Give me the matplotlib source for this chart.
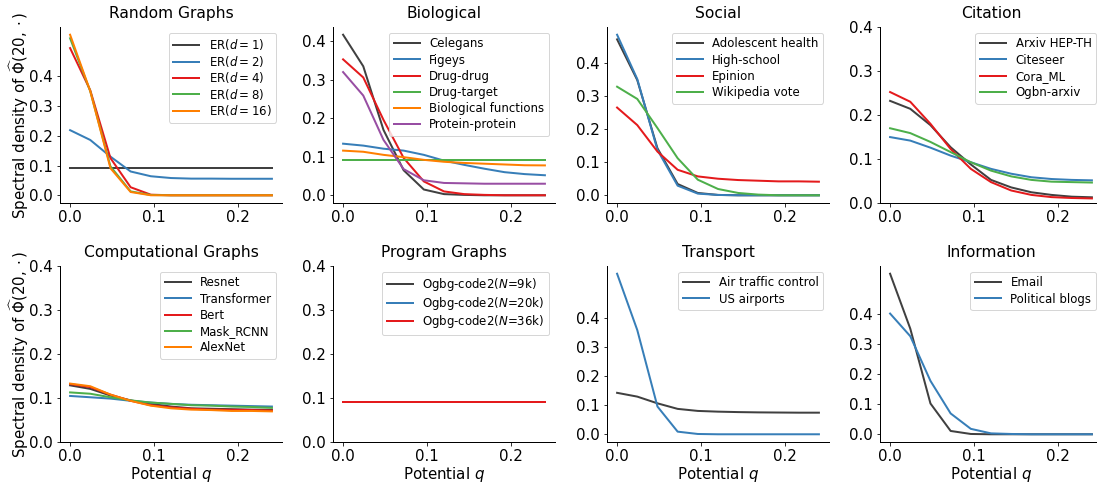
import numpy as np
import matplotlib
matplotlib.use("Agg")
import matplotlib.pyplot as plt

plt.rcParams['font.family'] = ['DejaVu Sans']

# Potential grid
q = np.linspace(0, 0.24, 11)

# Random graphs
er_d1 = [0.091] * 11
er_d2 = [0.219, 0.186, 0.130, 0.080, 0.064, 0.058, 0.056, 0.056, 0.0555, 0.0555, 0.0555]
er_d4 = [0.495, 0.353, 0.125, 0.027, 0.002, 0, 0, 0, 0, 0, 0]
er_d8 = [0.528, 0.350, 0.097, 0.013, 0.001, 0, 0, 0, 0, 0, 0]
er_d16 = [0.540, 0.350, 0.091, 0.011, 0.0, 0, 0, 0, 0, 0, 0]

# Biological
celegans = [0.417, 0.335, 0.170, 0.065, 0.015, 0.003, 0.001, 0, 0, 0, 0]
figeys = [0.134, 0.129, 0.121, 0.116, 0.105, 0.090, 0.079, 0.069, 0.060, 0.055, 0.052]
drug_drug = [0.353, 0.306, 0.196, 0.097, 0.036, 0.010, 0.003, 0.001, 0, 0, 0]
drug_target = [0.091] * 11
bio_functions = [0.116, 0.113, 0.105, 0.099, 0.092, 0.087, 0.084, 0.082, 0.080, 0.078, 0.0776]
protein = [0.320, 0.259, 0.144, 0.068, 0.039, 0.032, 0.031, 0.030, 0.030, 0.030, 0.030]

# Social
adolescent = [0.471, 0.348, 0.142, 0.034, 0.007, 0.001, 0, 0, 0, 0, 0]
high_school = [0.485, 0.351, 0.137, 0.029, 0.005, 0.001, 0, 0, 0, 0, 0]
epinion = [0.265, 0.212, 0.132, 0.077, 0.057, 0.050, 0.046, 0.044, 0.042, 0.042, 0.041]
wiki_vote = [0.328, 0.291, 0.203, 0.112, 0.047, 0.019, 0.007, 0.002, 0, 0, 0]

# Citation
arxiv_hepth = [0.232, 0.214, 0.177, 0.127, 0.088, 0.053, 0.036, 0.025, 0.019, 0.015, 0.0136]
citeseer = [0.150, 0.142, 0.126, 0.108, 0.093, 0.078, 0.067, 0.059, 0.055, 0.053, 0.052]
cora_ml = [0.252, 0.230, 0.180, 0.123, 0.078, 0.048, 0.029, 0.019, 0.014, 0.012, 0.011]
ogbn_arxiv = [0.170, 0.159, 0.139, 0.116, 0.093, 0.074, 0.061, 0.053, 0.049, 0.048, 0.047]

# Computational graphs
resnet = [0.129, 0.121, 0.106, 0.095, 0.087, 0.081, 0.077, 0.076, 0.075, 0.074, 0.0736]
transformer = [0.105, 0.102, 0.099, 0.094, 0.090, 0.087, 0.085, 0.084, 0.083, 0.082, 0.081]
bert = [0.132, 0.125, 0.108, 0.094, 0.084, 0.079, 0.076, 0.074, 0.0736, 0.073, 0.072]
mask_rcnn = [0.113, 0.110, 0.102, 0.095, 0.090, 0.087, 0.084, 0.083, 0.081, 0.080, 0.078]
alexnet = [0.133, 0.127, 0.108, 0.094, 0.083, 0.077, 0.074, 0.073, 0.071, 0.071, 0.070]

# Program graphs
code2_9k = [0.091] * 11
code2_20k = [0.091] * 11
code2_36k = [0.091] * 11

# Transport
air_traffic = [0.142, 0.129, 0.106, 0.087, 0.080, 0.0775, 0.076, 0.075, 0.0745, 0.074, 0.074]
us_airports = [0.550, 0.357, 0.095, 0.009, 0.001, 0, 0, 0, 0, 0, 0]

# Information
email = [0.532, 0.350, 0.102, 0.011, 0.001, 0, 0, 0, 0, 0, 0]
pol_blogs = [0.400, 0.325, 0.177, 0.069, 0.018, 0.003, 0.001, 0, 0, 0, 0]

colors = ['#404040', '#377eb8', '#e41a1c', '#4daf4a', '#ff7f00', '#984ea3']

# (title, series, fixed y-range, legend has math labels)
panels = [
    ("Random Graphs", [(er_d1, r"ER($d=1$)"), (er_d2, r"ER($d=2$)"), (er_d4, r"ER($d=4$)"),
                       (er_d8, r"ER($d=8$)"), (er_d16, r"ER($d=16$)")], False, True),
    ("Biological", [(celegans, "Celegans"), (figeys, "Figeys"), (drug_drug, "Drug-drug"),
                    (drug_target, "Drug-target"), (bio_functions, "Biological functions"),
                    (protein, "Protein-protein")], False, False),
    ("Social", [(adolescent, "Adolescent health"), (high_school, "High-school"),
                (epinion, "Epinion"), (wiki_vote, "Wikipedia vote")], False, False),
    ("Citation", [(arxiv_hepth, "Arxiv HEP-TH"), (citeseer, "Citeseer"),
                  (cora_ml, "Cora_ML"), (ogbn_arxiv, "Ogbn-arxiv")], True, False),
    ("Computational Graphs", [(resnet, "Resnet"), (transformer, "Transformer"), (bert, "Bert"),
                              (mask_rcnn, "Mask_RCNN"), (alexnet, "AlexNet")], True, False),
    ("Program Graphs", [(code2_9k, r"Ogbg-code2($N$=9k)"), (code2_20k, r"Ogbg-code2($N$=20k)"),
                        (code2_36k, r"Ogbg-code2($N$=36k)")], True, True),
    ("Transport", [(air_traffic, "Air traffic control"), (us_airports, "US airports")], False, False),
    ("Information", [(email, "Email"), (pol_blogs, "Political blogs")], False, False),
]

DPI = 72
W, H = 1097, 489
fig = plt.figure(figsize=(W / DPI, H / DPI), dpi=DPI)

lefts = [60, 333, 607, 880]
ax_w = 222
ax_h = 176.6
bottoms = [489 - 203.3, 489 - 442.3]

for i, (title, series, fixed, has_math) in enumerate(panels):
    r, c = divmod(i, 4)
    ax = fig.add_axes([lefts[c] / W, bottoms[r] / H, ax_w / W, ax_h / H])
    for k, (vals, lab) in enumerate(series):
        ax.plot(q, vals, color=colors[k], lw=2, label=lab)
    ax.set_title(title, fontsize=15.5, pad=8.5)
    ax.set_xticks([0.0, 0.1, 0.2])
    ax.set_yticks([0.0, 0.1, 0.2, 0.3, 0.4])
    if fixed:
        ax.set_ylim(0, 0.4)
    ax.tick_params(labelsize=15)
    for side in ('left', 'bottom'):
        ax.spines[side].set_linewidth(1.0)
    ax.spines['top'].set_visible(False)
    ax.spines['right'].set_visible(False)
    ax.legend(loc='upper right', fontsize=11.8, handlelength=2.2,
              labelspacing=0.12 if has_math else 0.27)
    if c == 0:
        ax.set_ylabel(r"Spectral density of $\widehat{\Phi}(20,\cdot)$", fontsize=15, labelpad=-2)
    if r == 1:
        ax.set_xlabel(r"Potential $q$", fontsize=15, labelpad=1)

fig.savefig("out.png", dpi=DPI)
